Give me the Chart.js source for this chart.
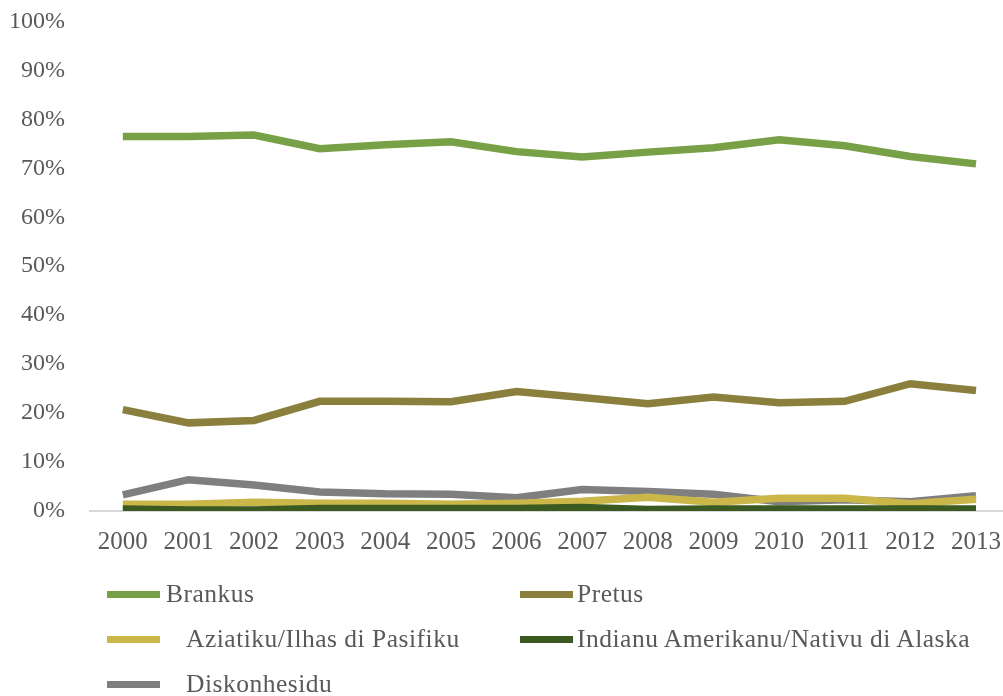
<!DOCTYPE html>
<html>
<head>
<meta charset="utf-8">
<script src="https://cdn.jsdelivr.net/npm/chart.js@4/dist/chart.umd.min.js"></script>
<style>
  html, body { margin: 0; padding: 0; background: #fff; overflow: hidden; }
  #wrap { position: relative; width: 1003px; height: 696px; overflow: hidden; }
  #c { position: absolute; left: 0; top: -18px; }
  .lg { position: absolute; font-family: "Liberation Serif", "Times New Roman", serif; font-size: 25.5px; letter-spacing: 0.5px; color: #595959; white-space: pre; line-height: 28px; }
  .mk { position: absolute; height: 7px; width: 53px; }
</style>
</head>
<body>
<div id="wrap">
  <canvas id="c" width="1017" height="714"></canvas>
  <div id="legend"></div>
</div>
<script>
const categories = ['2000','2001','2002','2003','2004','2005','2006','2007','2008','2009','2010','2011','2012','2013'];
const seriesNames = ['Brankus', 'Pretus', 'Aziatiku/Ilhas di Pasifiku', 'Indianu Amerikanu/Nativu di Alaska', 'Diskonhesidu'];
const brankus = [76.5, 76.5, 76.8, 74.0, 74.8, 75.4, 73.4, 72.3, 73.3, 74.2, 75.8, 74.6, 72.4, 70.9];
const pretus = [20.7, 18.0, 18.5, 22.4, 22.4, 22.3, 24.4, 23.2, 21.9, 23.3, 22.1, 22.4, 26.0, 24.6];
const aziatiku = [1.4, 1.4, 1.8, 1.6, 1.6, 1.4, 1.6, 2.0, 2.8, 1.8, 2.6, 2.6, 1.5, 2.4];
const indianu = [0.4, 0.2, 0.2, 0.5, 0.5, 0.5, 0.5, 0.7, 0.3, 0.4, 0.4, 0.4, 0.4, 0.4];
const diskonhesidu = [3.3, 6.4, 5.3, 3.9, 3.5, 3.4, 2.7, 4.4, 4.0, 3.4, 1.9, 2.3, 1.9, 3.1];
const yTicks = ['0%','10%','20%','30%','40%','50%','60%','70%','80%','90%','100%'];

const colors = ['#78A046', '#8A7F3C', '#CBB64A', '#3A5A22', '#7F7F7F'];
const values = [brankus, pretus, aziatiku, indianu, diskonhesidu];
const drawOrder = [0, 1, 4, 2, 3];

const datasets = drawOrder.map((i, k) => ({
  label: seriesNames[i],
  data: values[i],
  borderColor: colors[i],
  backgroundColor: colors[i],
  borderWidth: 7.5,
  pointRadius: 0,
  tension: 0,
  fill: false,
  order: 10 - k
}));

const fontFamily = '"Liberation Serif", "Times New Roman", serif';

new Chart(document.getElementById('c'), {
  type: 'line',
  data: { labels: categories, datasets },
  options: {
    responsive: false,
    animation: false,
    devicePixelRatio: 1,
    layout: { padding: { left: 10, right: 0, top: 2, bottom: 123 } },
    plugins: { legend: { display: false }, tooltip: { enabled: false } },
    scales: {
      x: {
        offset: true,
        grid: { display: false, drawTicks: false },
        border: { display: true, color: '#D9D9D9', width: 2 },
        ticks: { color: '#595959', font: { family: fontFamily, size: 25 }, padding: 16, maxRotation: 0, autoSkip: false }
      },
      y: {
        min: 0, max: 100,
        afterFit: (s) => { s.width = 80; },
        grid: { display: false, drawTicks: false },
        border: { display: false },
        ticks: { stepSize: 10, color: '#595959', font: { family: fontFamily, size: 24 }, padding: 25,
                 callback: (v) => yTicks[Math.round(v / 10)] }
      }
    }
  }
});

// legend (two columns, three rows)
const legendLayout = [
  { i: 0, mx: 107, tx: 166, y: 594 },
  { i: 1, mx: 520, tx: 577, y: 594 },
  { i: 2, mx: 107, tx: 186, y: 639 },
  { i: 3, mx: 520, tx: 577, y: 639 },
  { i: 4, mx: 107, tx: 186, y: 684 }
];
const lg = document.getElementById('legend');
legendLayout.forEach(p => {
  const m = document.createElement('div');
  m.className = 'mk';
  m.style.left = p.mx + 'px';
  m.style.top = (p.y - 3) + 'px';
  m.style.background = colors[p.i];
  lg.appendChild(m);
  const t = document.createElement('div');
  t.className = 'lg';
  t.style.left = p.tx + 'px';
  t.style.top = (p.y - 14) + 'px';
  t.textContent = seriesNames[p.i];
  lg.appendChild(t);
});
</script>
</body>
</html>
